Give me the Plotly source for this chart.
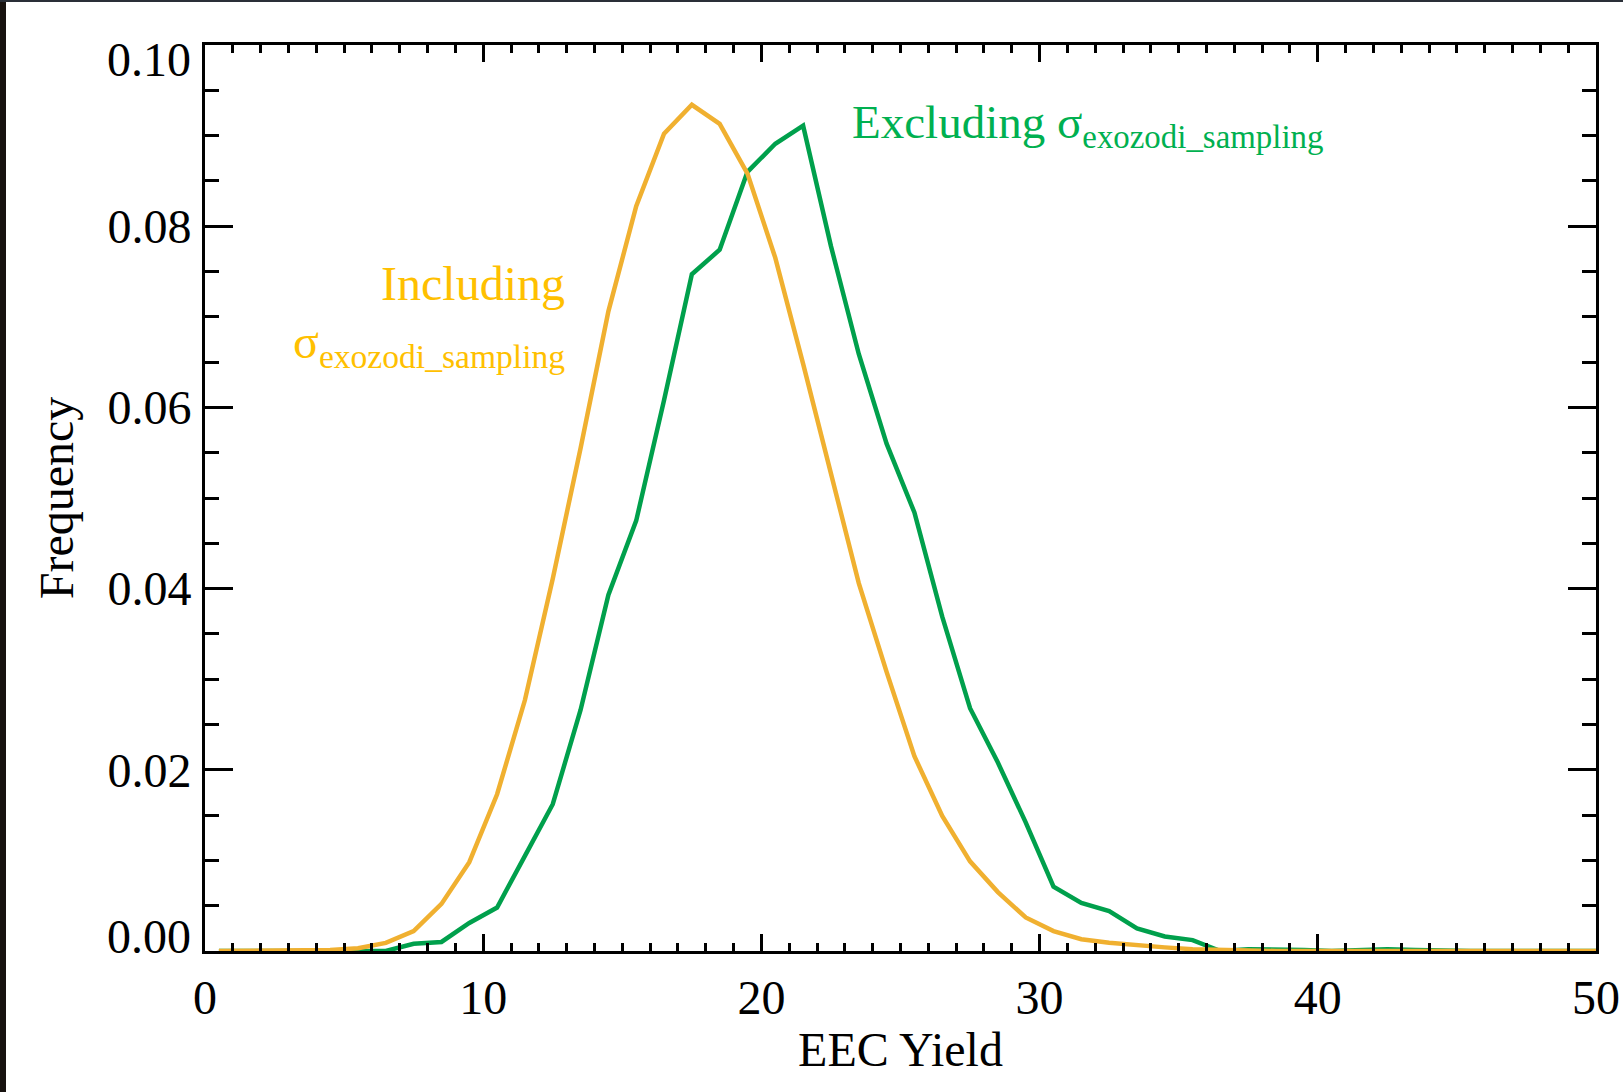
import plotly.graph_objects as go

# ---- data ----
yield_bins = [0.5, 1.5, 2.5, 3.5, 4.5, 5.5, 6.5, 7.5, 8.5, 9.5,
              10.5, 11.5, 12.5, 13.5, 14.5, 15.5, 16.5, 17.5, 18.5, 19.5,
              20.5, 21.5, 22.5, 23.5, 24.5, 25.5, 26.5, 27.5, 28.5, 29.5,
              30.5, 31.5, 32.5, 33.5, 34.5, 35.5, 36.5, 37.5, 38.5, 39.5,
              40.5, 41.5, 42.5, 43.5, 44.5, 45.5, 46.5, 47.5, 48.5, 49.5, 50.5]

freq_including = [0.0, 0.0, 0.0, 0.0, 0.0001, 0.0003, 0.0009, 0.0022, 0.0052, 0.0098,
                  0.0173, 0.0277, 0.0411, 0.0555, 0.0706, 0.0822, 0.0902, 0.0934, 0.0913, 0.0858,
                  0.0765, 0.0648, 0.0527, 0.0406, 0.0308, 0.0215, 0.0149, 0.0099, 0.0065, 0.0037,
                  0.0022, 0.0013, 0.0009, 0.0006, 0.0004, 0.0002, 0.0001, 0.0, 0.0, 0.0,
                  0.0, 0.0, 0.0, 0.0, 0.0, 0.0, 0.0, 0.0, 0.0, 0.0, 0.0]

freq_excluding = [0.0, 0.0, 0.0, 0.0, 0.0, 0.0, 0.0, 0.0008, 0.0010, 0.0031,
                  0.0048, 0.0105, 0.0162, 0.0266, 0.0393, 0.0475, 0.0608, 0.0747, 0.0774, 0.0860,
                  0.0891, 0.0911, 0.0778, 0.0659, 0.0560, 0.0484, 0.0369, 0.0268, 0.0208, 0.0142,
                  0.0071, 0.0053, 0.0044, 0.0025, 0.0016, 0.0012, 0.0, 0.0002, 0.0002, 0.0001,
                  0.0, 0.0001, 0.0002, 0.0001, 0.0, 0.0, 0.0, 0.0, 0.0, 0.0, 0.0]

x_tick_vals = [0, 10, 20, 30, 40, 50]
x_tick_text = ["0", "10", "20", "30", "40", "50"]
y_tick_vals = [0.0, 0.02, 0.04, 0.06, 0.08, 0.10]
y_tick_text = ["0.00", "0.02", "0.04", "0.06", "0.08", "0.10"]

label_including = "Including"
label_including_sigma = "σ<sub>exozodi_sampling</sub>"
label_excluding = "Excluding σ<sub>exozodi_sampling</sub>"

# ---- styling ----
W, H = 1623, 1092
L, R, T, B = 205, 27, 45, 141
FONT = "Liberation Serif"
FS = 48
ORANGE_LINE = "#F0B030"
GREEN_LINE = "#00A04C"
ORANGE_TEXT = "#FFC000"
GREEN_TEXT = "#00B050"

fig = go.Figure()
fig.add_trace(go.Scatter(x=yield_bins, y=freq_excluding, mode="lines",
                         line=dict(color=GREEN_LINE, width=4.5), showlegend=False))
fig.add_trace(go.Scatter(x=yield_bins, y=freq_including, mode="lines",
                         line=dict(color=ORANGE_LINE, width=4.5), showlegend=False))

# inner y tick labels are drawn natively; the two end labels are nudged inward
# (as in the reference) and drawn as annotations.  Their major ticks would sit on
# the horizontal frame lines anyway.
y_end = (0.0, 0.10)
y_native_vals = [v for v in y_tick_vals if v not in y_end]
y_native_text = [t for v, t in zip(y_tick_vals, y_tick_text) if v not in y_end]

fig.update_layout(
    template="none",
    width=W, height=H,
    margin=dict(l=L, r=R, t=T, b=B, pad=0),
    paper_bgcolor="white", plot_bgcolor="white",
    font=dict(family=FONT, size=FS, color="black"),
    xaxis=dict(
        range=[0, 50], tickvals=x_tick_vals, ticktext=x_tick_text,
        ticks="inside", ticklen=17, tickwidth=3, tickcolor="black",
        minor=dict(dtick=1, ticks="inside", ticklen=8, tickwidth=2.5, tickcolor="black",
                   showgrid=False),
        showline=True, linecolor="black", linewidth=3, mirror="allticks",
        showgrid=False, zeroline=False, automargin=False,
        tickfont=dict(family=FONT, size=FS, color="black"),
        ticklabelstandoff=2,
        title=dict(text="EEC Yield", font=dict(family=FONT, size=FS, color="black"), standoff=10),
    ),
    yaxis=dict(
        range=[0, 0.10], tickvals=y_native_vals, ticktext=y_native_text,
        ticks="inside", ticklen=28, tickwidth=3, tickcolor="black",
        minor=dict(dtick=0.005, ticks="inside", ticklen=14, tickwidth=3, tickcolor="black",
                   showgrid=False),
        showline=True, linecolor="black", linewidth=3, mirror="allticks",
        showgrid=False, zeroline=False, automargin=False,
        tickfont=dict(family=FONT, size=FS, color="black"),
        ticklabelstandoff=1,
        title=dict(text="Frequency", font=dict(family=FONT, size=FS, color="black"), standoff=19),
    ),
)

annotations = []
for v, t in zip(y_tick_vals, y_tick_text):
    if v == 0.0:
        annotations.append(dict(x=0, y=v, xref="paper", yref="y", text=t, showarrow=False,
                                xanchor="right", yanchor="middle", xshift=-12, yshift=15,
                                font=dict(family=FONT, size=FS, color="black")))
    elif v == 0.10:
        annotations.append(dict(x=0, y=v, xref="paper", yref="y", text=t, showarrow=False,
                                xanchor="right", yanchor="middle", xshift=-12, yshift=-14,
                                font=dict(family=FONT, size=FS, color="black")))

annotations += [
    dict(x=13.0, y=0.0737, xref="x", yref="y", text=label_including, showarrow=False,
         xanchor="right", yanchor="middle", font=dict(family=FONT, size=FS, color=ORANGE_TEXT)),
    dict(x=13.0, y=0.0669, xref="x", yref="y", text=label_including_sigma, showarrow=False,
         xanchor="right", yanchor="middle", font=dict(family=FONT, size=FS, color=ORANGE_TEXT)),
    dict(x=23.2, y=0.0911, xref="x", yref="y", text=label_excluding, showarrow=False,
         xanchor="left", yanchor="middle", font=dict(family=FONT, size=47, color=GREEN_TEXT)),
]
fig.update_layout(annotations=annotations)

# thin dark frame strips at the top and left edges of the reference screenshot
pw = W - L - R
ph = H - T - B
fig.add_shape(type="rect", xref="paper", yref="paper",
              x0=-L / pw, x1=(6 - L) / pw, y0=-B / ph, y1=(H - B) / ph,
              fillcolor="#17120f", line=dict(width=0), layer="above")
fig.add_shape(type="rect", xref="paper", yref="paper",
              x0=-L / pw, x1=(W - L) / pw, y0=(H - B - 2) / ph, y1=(H - B) / ph,
              fillcolor="#2a2f38", line=dict(width=0), layer="above")

fig.write_html("out.html")
